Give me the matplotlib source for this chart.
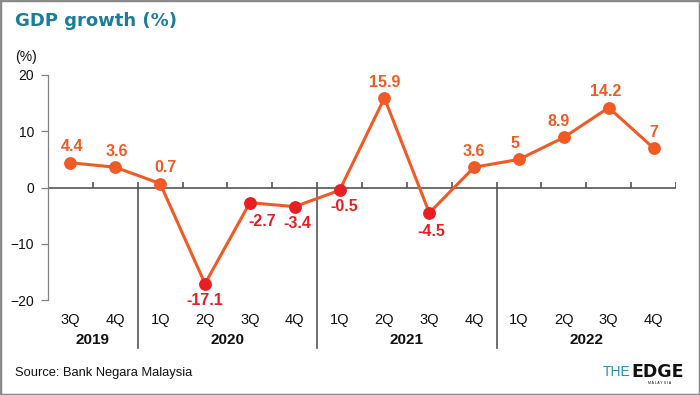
import matplotlib.pyplot as plt
import matplotlib.transforms as mtransforms
from matplotlib.patches import Rectangle

# data
quarters = ['3Q', '4Q', '1Q', '2Q', '3Q', '4Q', '1Q', '2Q', '3Q', '4Q', '1Q', '2Q', '3Q', '4Q']
years = ['2019', '2020', '2021', '2022']
year_counts = [2, 4, 4, 4]
gdp = [4.4, 3.6, 0.7, -17.1, -2.7, -3.4, -0.5, 15.9, -4.5, 3.6, 5, 8.9, 14.2, 7]
labels = ['4.4', '3.6', '0.7', '-17.1', '-2.7', '-3.4', '-0.5', '15.9', '-4.5', '3.6', '5', '8.9', '14.2', '7']

# label nudges (points)
label_dx = [1, 1, 3.5, 0, 9, 2, 3.5, 0, 1.5, -0.5, -3, -3.5, -2, 0]

ORANGE = '#f15a24'
RED = '#e81e25'
TEAL = '#1d7c9b'
GREY = '#555555'

plt.rcParams['font.family'] = ['Liberation Sans', 'DejaVu Sans']

fig = plt.figure(figsize=(7, 3.95), dpi=100)
ax = fig.add_axes([48 / 700, 1 - 300 / 395, 628 / 700, 225 / 395])

x = [i + 0.5 for i in range(len(gdp))]
ax.plot(x, gdp, color=ORANGE, lw=2.2, zorder=3, clip_on=False)
for xi, v, lab, dx in zip(x, gdp, labels, label_dx):
    c = ORANGE if v >= 0 else RED
    ax.plot(xi, v, 'o', ms=8.2, color=c, mec=c, zorder=4, clip_on=False)
    if v >= 0:
        dy = 11.5
    else:
        dy = -13.5 if v in (-2.7, -4.5) else -11.8
    ax.annotate(lab, (xi, v), xytext=(dx, dy), textcoords='offset points',
                ha='center', va='center', color=c, fontsize=11.5,
                fontweight='bold', zorder=5)

ax.set_xlim(0, len(gdp))
ax.set_ylim(-20, 20)
ax.set_yticks([-20, -10, 0, 10, 20])
ax.set_xticks([])
for s in ['top', 'right', 'bottom']:
    ax.spines[s].set_visible(False)
ax.spines['left'].set_color('#808080')
ax.spines['left'].set_linewidth(0.9)
ax.tick_params(axis='y', length=5, width=0.9, color='#808080', pad=5,
               labelsize=10, labelcolor='#111111')

# zero line with small ticks at quarter boundaries
ax.axhline(0, color=GREY, lw=1.2, zorder=2)
ax.vlines(range(1, len(gdp) + 1), 0, 0.9, color=GREY, lw=1.2, zorder=2)

# year dividers and labels below
trans = mtransforms.blended_transform_factory(ax.transData, ax.transAxes)
start = 0
for yr, n in zip(years, year_counts):
    end = start + n
    if start > 0:
        ax.plot([start, start], [0.5, -0.213], transform=trans, color=GREY,
                lw=1.2, clip_on=False)
    ax.text((start + end) / 2, -0.178, yr, transform=trans, ha='center',
            va='center', fontsize=11, fontweight='bold', color='#111111')
    start = end
for xi, q in zip(x, quarters):
    ax.text(xi, -0.089, q, transform=trans, ha='center', va='center',
            fontsize=10.5, color='#111111')

fig.text(15 / 700, 1 - 21 / 395, 'GDP growth (%)', ha='left', va='center',
         fontsize=13, fontweight='bold', color=TEAL, family='DejaVu Sans')
fig.text(15 / 700, 1 - 57 / 395, '(%)', ha='left', va='center', fontsize=10,
         color='#111111')
fig.text(15 / 700, 1 - 373 / 395, 'Source: Bank Negara Malaysia', ha='left',
         va='center', fontsize=9.3, color='#111111')

# logo
the = fig.text(603 / 700, 1 - 372 / 395, 'THE', ha='left', va='center',
               fontsize=10, color='#2a93b5')
fig.canvas.draw()
bb = the.get_window_extent()
fig.text(bb.x1 / 700 + 0.5 / 700, 1 - 372 / 395, 'EDGE', ha='left', va='center',
         fontsize=12.5, fontweight='black', color='#111111', family='DejaVu Sans')
fig.text(660 / 700, 1 - 383 / 395, 'M A L A Y S I A', ha='center', va='center',
         fontsize=2.5, color='#111111')

fig.patches.append(Rectangle((0, 0), 1, 1, transform=fig.transFigure,
                             fill=False, ec='#8a8a8a', lw=2.5))

plt.savefig('out.png', dpi=100)
